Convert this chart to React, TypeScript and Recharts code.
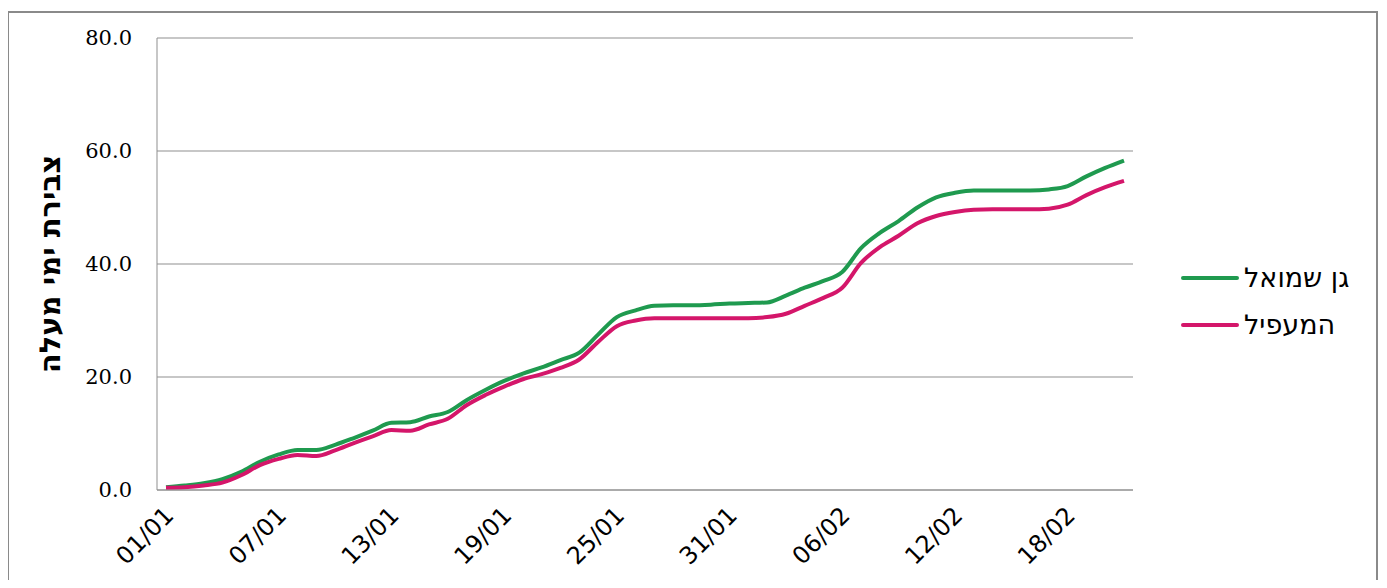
import React from 'react';
import { LineChart, Line, XAxis, YAxis, CartesianGrid } from 'recharts';

const dates: string[] = [
  '01/01', '02/01', '03/01', '04/01', '05/01', '06/01', '07/01', '08/01', '09/01', '10/01',
  '11/01', '12/01', '13/01', '14/01', '15/01', '16/01', '17/01', '18/01', '19/01', '20/01',
  '21/01', '22/01', '23/01', '24/01', '25/01', '26/01', '27/01', '28/01', '29/01', '30/01',
  '31/01', '01/02', '02/02', '03/02', '04/02', '05/02', '06/02', '07/02', '08/02', '09/02',
  '10/02', '11/02', '12/02', '13/02', '14/02', '15/02', '16/02', '17/02', '18/02', '19/02',
  '20/02', '21/02',
];

const ganShmuel: number[] = [
  0.5, 0.8, 1.2, 1.9, 3.2, 5.0, 6.3, 7.1, 7.1, 8.0,
  9.2, 10.5, 11.9, 12.0, 13.0, 13.8, 15.9, 17.7, 19.3, 20.6,
  21.7, 23.0, 24.3, 27.5, 30.6, 31.8, 32.6, 32.7, 32.7, 32.8,
  33.0, 33.1, 33.2, 34.4, 35.8, 37.0, 38.6, 42.8, 45.5, 47.6,
  50.0, 51.8, 52.6, 53.0, 53.0, 53.0, 53.0, 53.2, 53.8, 55.5,
  57.0, 58.3,
];

const haMaapil: number[] = [
  0.4, 0.5, 0.8, 1.3, 2.6, 4.4, 5.5, 6.2, 6.0, 7.0,
  8.3, 9.5, 10.6, 10.5, 11.6, 12.6, 15.0, 16.8, 18.3, 19.6,
  20.5, 21.6, 23.1, 26.2, 29.0, 30.0, 30.4, 30.4, 30.4, 30.4,
  30.4, 30.4, 30.6, 31.2, 32.6, 34.0, 35.8, 40.2, 43.0, 45.0,
  47.2, 48.5, 49.2, 49.6, 49.7, 49.7, 49.7, 49.8, 50.5, 52.2,
  53.6, 54.7,
];

const yTicks: number[] = [0, 20, 40, 60, 80];

const seriesNames = ['גן שמואל', 'המעפיל'];
const yLabel = 'צבירת ימי מעלה';

const GREEN = '#1f9a4f';
const PINK = '#d4166a';

const data = dates.map((d, i) => ({ date: d, g: ganShmuel[i], m: haMaapil[i] }));

const XTick = (props: any) => {
  const { x, y, payload } = props;
  return (
    <g transform={`translate(${x + 9},${y + 25})`}>
      <text
        x={0}
        y={0}
        textAnchor="end"
        transform="rotate(-45)"
        fontFamily="DejaVu Sans"
        fontSize={24}
        fill="#000"
      >
        {payload.value}
      </text>
    </g>
  );
};

const YLabel = (props: any) => {
  const { viewBox } = props;
  const cx = viewBox.x + 50;
  const cy = viewBox.y + viewBox.height / 2;
  return (
    <text
      x={cx}
      y={cy}
      transform={`rotate(-90, ${cx}, ${cy})`}
      textAnchor="middle"
      dominantBaseline="central"
      fontFamily="DejaVu Sans"
      fontWeight="bold"
      fontSize={29}
      fill="#000"
    >
      {yLabel}
    </text>
  );
};

const LegendBox = () => {
  const items = [
    { name: seriesNames[0], color: GREEN },
    { name: seriesNames[1], color: PINK },
  ];
  return (
    <div style={{ position: 'absolute', left: 1181, top: 261, display: 'flex', flexDirection: 'column', gap: 14 }}>
      {items.map((it) => (
        <div key={it.name} style={{ display: 'flex', alignItems: 'center', height: 33 }}>
          <svg width={58} height={8} style={{ display: 'block' }}>
            <line x1={2} y1={4} x2={56} y2={4} stroke={it.color} strokeWidth={4} strokeLinecap="round" />
          </svg>
          <span
            style={{
              fontFamily: 'DejaVu Sans',
              fontSize: 27,
              color: '#000',
              marginLeft: 5,
              whiteSpace: 'nowrap',
            }}
          >
            {it.name}
          </span>
        </div>
      ))}
    </div>
  );
};

export default function App() {
  return (
    <div
      style={{
        position: 'relative',
        margin: -8,
        width: 1387,
        height: 588,
        overflow: 'hidden',
        background: '#fff',
      }}
    >
      <div style={{ position: 'absolute', left: 0, top: 0 }}>
        <LineChart
          width={1387}
          height={588}
          data={data}
          margin={{ top: 38, right: 254, bottom: 0, left: 0 }}
        >
          <CartesianGrid vertical={false} stroke="#8f8f8f" strokeWidth={1} />
          <XAxis
            dataKey="date"
            interval={5}
            height={98}
            tickLine={false}
            tickSize={0}
            axisLine={{ stroke: '#8f8f8f' }}
            padding={{ left: 9, right: 9 }}
            tick={<XTick />}
          />
          <YAxis
            width={157}
            domain={[0, 80]}
            ticks={yTicks}
            tickFormatter={(v: number) => v.toFixed(1)}
            tickLine={false}
            tickSize={0}
            tickMargin={25}
            axisLine={{ stroke: '#8f8f8f' }}
            tick={{ fontFamily: 'DejaVu Serif', fontSize: 21, fill: '#000' }}
            label={<YLabel />}
          />
          <YAxis
            yAxisId="right"
            orientation="right"
            width={0}
            domain={[0, 80]}
            tick={false}
            tickLine={false}
            axisLine={{ stroke: '#8f8f8f' }}
          />
          <Line
            type="monotone"
            dataKey="g"
            name={seriesNames[0]}
            stroke={GREEN}
            strokeWidth={4}
            dot={false}
            isAnimationActive={false}
          />
          <Line
            type="monotone"
            dataKey="m"
            name={seriesNames[1]}
            stroke={PINK}
            strokeWidth={4}
            dot={false}
            isAnimationActive={false}
          />
        </LineChart>
      </div>
      <LegendBox />
      <div
        style={{
          position: 'absolute',
          left: 7,
          top: 11,
          width: 1371,
          height: 590,
          boxSizing: 'border-box',
          border: '2px solid #8a8a8a',
          pointerEvents: 'none',
          zIndex: 5,
        }}
      />
    </div>
  );
}
